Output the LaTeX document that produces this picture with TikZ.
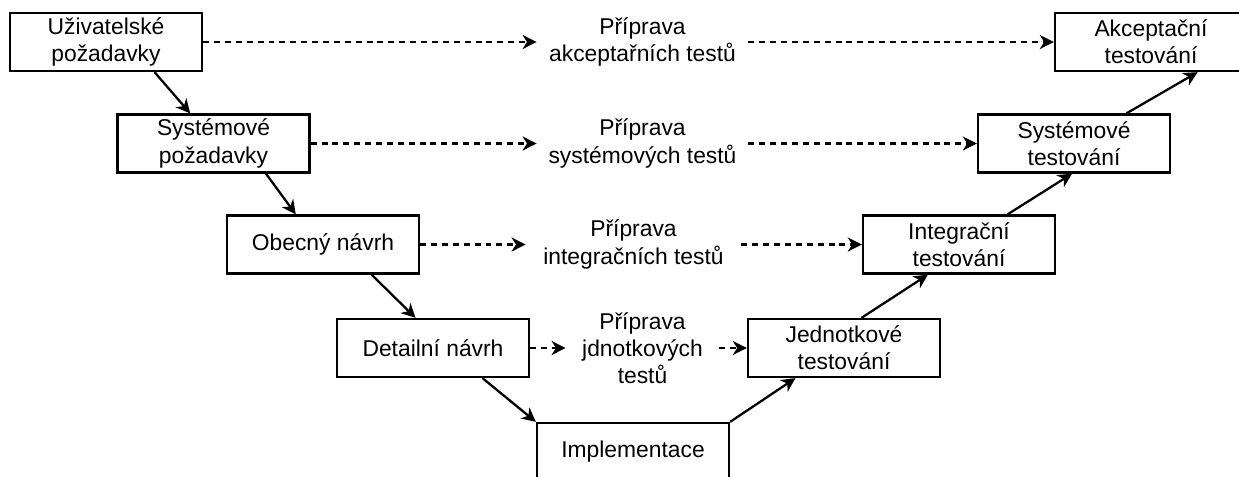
\documentclass[tikz,border=0pt]{standalone}
\usepackage{fontspec}
\setmainfont{Liberation Sans}
\usetikzlibrary{arrows.meta,calc}

\begin{document}
\begin{tikzpicture}
  [every node/.style={font=\fontsize{13}{15.5}\selectfont},
   >={Stealth[length=8pt,width=8pt,inset=2.5pt]}]
  \tikzstyle{phase} = [draw,shape=rectangle,line width=1.3pt,minimum width=3.84cm,minimum height=1.16cm,align=center,inner sep=0pt]
  \tikzstyle{prep} = [align=center,inner sep=0pt,minimum height=1cm]
  \tikzstyle{plan} = [line width=1.3pt,dash pattern=on 3.4pt off 2.8pt,->]
  \tikzstyle{flow} = [line width=1.3pt,->]
  \useasboundingbox (0,0) rectangle (24.78,-9.52);
  % left side
  \node[phase] (u)  at (2.12,-0.84) {Uživatelské\\požadavky};
  \node[phase] (sr) at (4.27,-2.87) {Systémové\\požadavky};
  \node[phase] (o)  at (6.46,-4.89) {Obecný návrh};
  \node[phase] (d)  at (8.66,-6.96) {Detailní návrh};
  \node[phase] (im) at (12.66,-9.04) {Implementace};
  % right side
  \node[phase] (j)  at (16.88,-6.96) {Jednotkové\\testování};
  \node[phase] (in) at (19.18,-4.89) {Integrační\\testování};
  \node[phase] (st) at (21.48,-2.87) {Systémové\\testování};
  \node[phase] (a)  at (23.02,-0.84) {Akceptační\\testování};
  % test preparation
  \node[prep,minimum width=4.22cm] (t1) at (12.85,-0.84) {Příprava\\akceptařních testů};
  \node[prep,minimum width=4.22cm] (t2) at (12.85,-2.87) {Příprava\\systémových testů};
  \node[prep,minimum width=4.30cm] (t3) at (12.67,-4.89) {Příprava\\integračních testů};
  \node[prep,minimum width=3.06cm] (t4) at (12.85,-6.96) {Příprava\\jdnotkových\\testů};

\foreach \source/\dest in {u/t1,t1/a,sr/t2,t2/st,o/t3,t3/in,d/t4,t4/j}
   \draw[plan] (\source.east) -- (\dest.west);

\foreach \source/\fs/\dest/\fd in {u/.75/sr/.38,sr/.77/o/.36,o/.75/d/.41,d/.755/im/0}
   \draw[flow] ($(\source.south west)!\fs!(\source.south east)$) -- ($(\dest.north west)!\fd!(\dest.north east)$);

\foreach \source/\fs/\dest/\fd in {im/1/j/.25,j/.59/in/.34,in/.75/st/.49,st/.77/a/.74}
   \draw[flow] ($(\source.north west)!\fs!(\source.north east)$) -- ($(\dest.south west)!\fd!(\dest.south east)$);

\end{tikzpicture}
\end{document}
